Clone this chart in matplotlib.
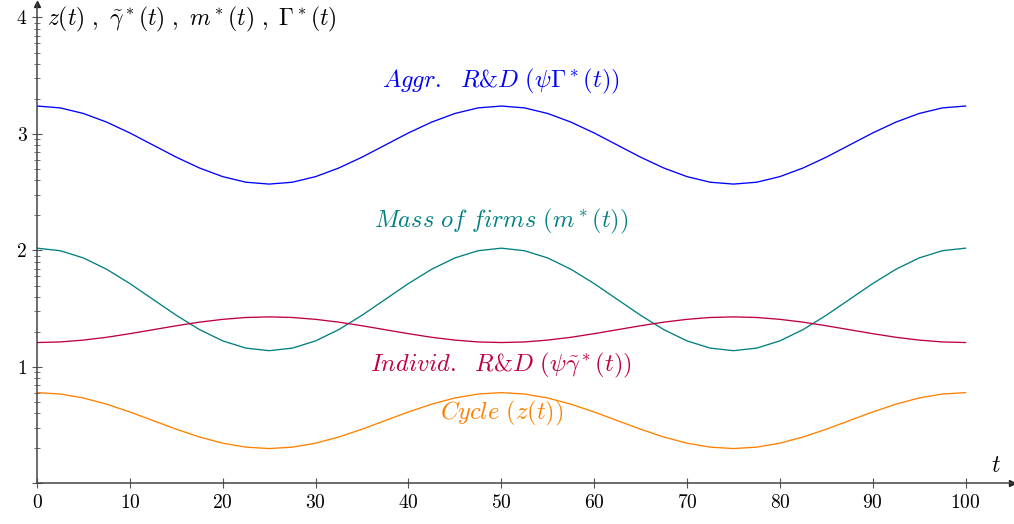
import numpy as np
import matplotlib
matplotlib.use('Agg')
import matplotlib.pyplot as plt

# time grid and the four series (every 2.5 units)
t = np.linspace(0, 100, 41)

aggr_rd = [3.240, 3.224, 3.176, 3.102, 3.009, 2.905, 2.801, 2.708, 2.634, 2.586, 2.570,
           2.586, 2.634, 2.708, 2.801, 2.905, 3.009, 3.102, 3.176, 3.224, 3.240,
           3.224, 3.176, 3.102, 3.009, 2.905, 2.801, 2.708, 2.634, 2.586, 2.570,
           2.586, 2.634, 2.708, 2.801, 2.905, 3.009, 3.102, 3.176, 3.224, 3.240]
mass_firms = [2.020, 1.998, 1.936, 1.839, 1.716, 1.580, 1.444, 1.321, 1.224, 1.162, 1.140,
              1.162, 1.224, 1.321, 1.444, 1.580, 1.716, 1.839, 1.936, 1.998, 2.020,
              1.998, 1.936, 1.839, 1.716, 1.580, 1.444, 1.321, 1.224, 1.162, 1.140,
              1.162, 1.224, 1.321, 1.444, 1.580, 1.716, 1.839, 1.936, 1.998, 2.020]
indiv_rd = [1.210, 1.215, 1.231, 1.255, 1.286, 1.320, 1.354, 1.385, 1.409, 1.425, 1.430,
            1.425, 1.409, 1.385, 1.354, 1.320, 1.286, 1.255, 1.231, 1.215, 1.210,
            1.215, 1.231, 1.255, 1.286, 1.320, 1.354, 1.385, 1.409, 1.425, 1.430,
            1.425, 1.409, 1.385, 1.354, 1.320, 1.286, 1.255, 1.231, 1.215, 1.210]
cycle = [0.780, 0.768, 0.734, 0.681, 0.614, 0.540, 0.466, 0.399, 0.346, 0.312, 0.300,
         0.312, 0.346, 0.399, 0.466, 0.540, 0.614, 0.681, 0.734, 0.768, 0.780,
         0.768, 0.734, 0.681, 0.614, 0.540, 0.466, 0.399, 0.346, 0.312, 0.300,
         0.312, 0.346, 0.399, 0.466, 0.540, 0.614, 0.681, 0.734, 0.768, 0.780]

x_ticks = [0, 10, 20, 30, 40, 50, 60, 70, 80, 90, 100]
y_ticks = [0, 1, 2, 3, 4]
y_ticklabels = ['', '1', '2', '3', '4']

labels = [r'$\mathit{Aggr}.\ \ \mathit{R}&\mathit{D}\ (\psi\Gamma^*(t))$',
          r'$\mathit{Mass}\ \mathit{of}\ \mathit{firms}\ (m^*(t))$',
          r'$\mathit{Individ}.\ \ \mathit{R}&\mathit{D}\ (\psi\tilde{\gamma}^*(t))$',
          r'$\mathit{Cycle}\ (z(t))$']
label_pos = [(50, 3.455), (50, 2.253), (50, 1.009), (50, 0.597)]
colors = ['#0000ff', '#008080', '#bf0040', '#ff8000']

plt.rcParams['mathtext.fontset'] = 'cm'
plt.rcParams['font.family'] = 'serif'
plt.rcParams['font.serif'] = ['cmr10']
plt.rcParams['axes.formatter.use_mathtext'] = True

fig = plt.figure(figsize=(10.14, 5.24), dpi=100)
ax = fig.add_axes([0.0365, 0.0773, 0.9615, 0.916])

for series, c in zip([aggr_rd, mass_firms, indiv_rd, cycle], colors):
    ax.plot(t, series, color=c, lw=0.95)

for (x, y), txt, c in zip(label_pos, labels, colors):
    ax.text(x, y, txt, color=c, fontsize=17.6, ha='center', va='center')

ax.set_xlim(0, 105)
ax.set_ylim(0, 4.12)

# axis lines with arrow heads
for s in ['top', 'right']:
    ax.spines[s].set_visible(False)
for s in ['left', 'bottom']:
    ax.spines[s].set_color('#444444')
    ax.spines[s].set_linewidth(1.1)
ax.plot(1, 0, '>', color='#222222', ms=4, transform=ax.get_yaxis_transform(), clip_on=False)
ax.plot(0, 1, '^', color='#222222', ms=4, transform=ax.get_xaxis_transform(), clip_on=False)

ax.set_xticks(x_ticks)
ax.set_yticks(y_ticks)
ax.set_yticklabels(y_ticklabels)
ax.set_yticks([n + np.log10(k) for n in range(4) for k in range(2, 10)], minor=True)
ax.tick_params(which='major', direction='inout', length=7, width=0.8,
               color='#555555', labelsize=14)
ax.tick_params(which='minor', direction='inout', length=5, width=0.6, color='#555555')
ax.tick_params(axis='x', pad=4)
ax.tick_params(axis='y', pad=4)

ax.text(1.1, 3.98, r'$z(t)\ ,\ \tilde{\gamma}^*(t)\ ,\ m^*(t)\ ,\ \Gamma^*(t)$',
        fontsize=17, ha='left', va='center')
ax.text(103.3, 0.15, r'$t$', fontsize=17, ha='center', va='center')

fig.savefig('out.png', dpi=100)
